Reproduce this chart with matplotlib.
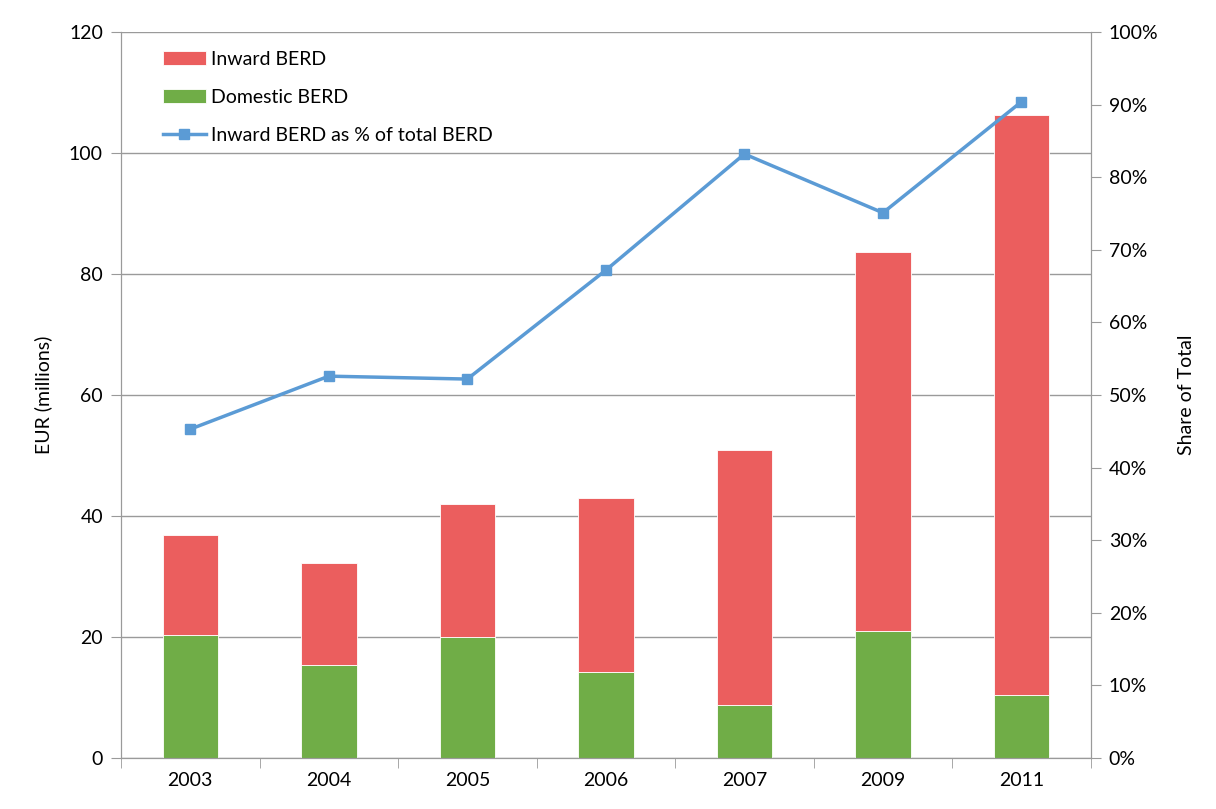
import matplotlib.pyplot as plt
import numpy as np
from matplotlib.ticker import PercentFormatter

plt.rcParams['font.family'] = ['Lato', 'DejaVu Sans']

years = ['2003', '2004', '2005', '2006', '2007', '2009', '2011']
domestic = [20.3, 15.4, 20.0, 14.2, 8.8, 21.0, 10.4]
total = [36.9, 32.2, 42.0, 43.0, 50.9, 83.6, 106.3]
inward = [t - d for t, d in zip(total, domestic)]
share = [45.3, 52.6, 52.2, 67.2, 83.2, 75.1, 90.4]

RED = '#eb5e5e'
GREEN = '#70ad47'
BLUE = '#5b9bd5'
GRID = '#9a9a9a'
FS = 14

fig = plt.figure(figsize=(12.16, 8.09), dpi=100)
ax = fig.add_axes([0.0995, 0.063, 0.7975, 0.8974])
ax2 = ax.twinx()

x = np.arange(len(years))
ax.bar(x, domestic, width=0.4, color=GREEN, edgecolor='white', linewidth=0.6,
       label='Domestic BERD', zorder=2)
ax.bar(x, inward, bottom=domestic, width=0.4, color=RED, edgecolor='white',
       linewidth=0.6, label='Inward BERD', zorder=2)
ax2.plot(x, share, color=BLUE, lw=2.5, marker='s', ms=7,
         label='Inward BERD as % of total BERD', zorder=3)

ax.set_xlim(-0.5, len(years) - 0.5)
ax.set_ylim(0, 120)
ax.set_yticks(range(0, 121, 20))
ax2.set_ylim(0, 100)
ax2.set_yticks(range(0, 101, 10))
ax2.yaxis.set_major_formatter(PercentFormatter(decimals=0))

ax.set_xticks(x)
ax.set_xticklabels(years)
ax.set_xticks(np.arange(-0.5, len(years)), minor=True)
ax.tick_params(axis='x', which='major', length=0, pad=10, labelsize=FS)
ax.tick_params(axis='x', which='minor', length=7, color=GRID, direction='out')
ax.tick_params(axis='y', length=7, color=GRID, labelsize=FS, pad=6)
ax2.tick_params(axis='y', length=7, color=GRID, labelsize=FS, pad=6)

ax.yaxis.grid(True, color=GRID, lw=1)
ax.set_axisbelow(True)
for a in (ax, ax2):
    a.spines['top'].set_visible(False)
    for s in ('left', 'right', 'bottom'):
        a.spines[s].set_color(GRID)

ax.set_ylabel('EUR (millions)', fontsize=FS, labelpad=12)
ax2.set_ylabel('Share of Total', fontsize=FS, labelpad=14)

h1, l1 = ax.get_legend_handles_labels()
h2, l2 = ax2.get_legend_handles_labels()
leg = ax2.legend([h1[1], h1[0], h2[0]], [l1[1], l1[0], l2[0]],
                 loc='upper left', bbox_to_anchor=(0.025, 0.998), frameon=False,
                 fontsize=FS, handlelength=2.2, handletextpad=0.3,
                 labelspacing=1.08)

fig.savefig('out.png', dpi=100)
